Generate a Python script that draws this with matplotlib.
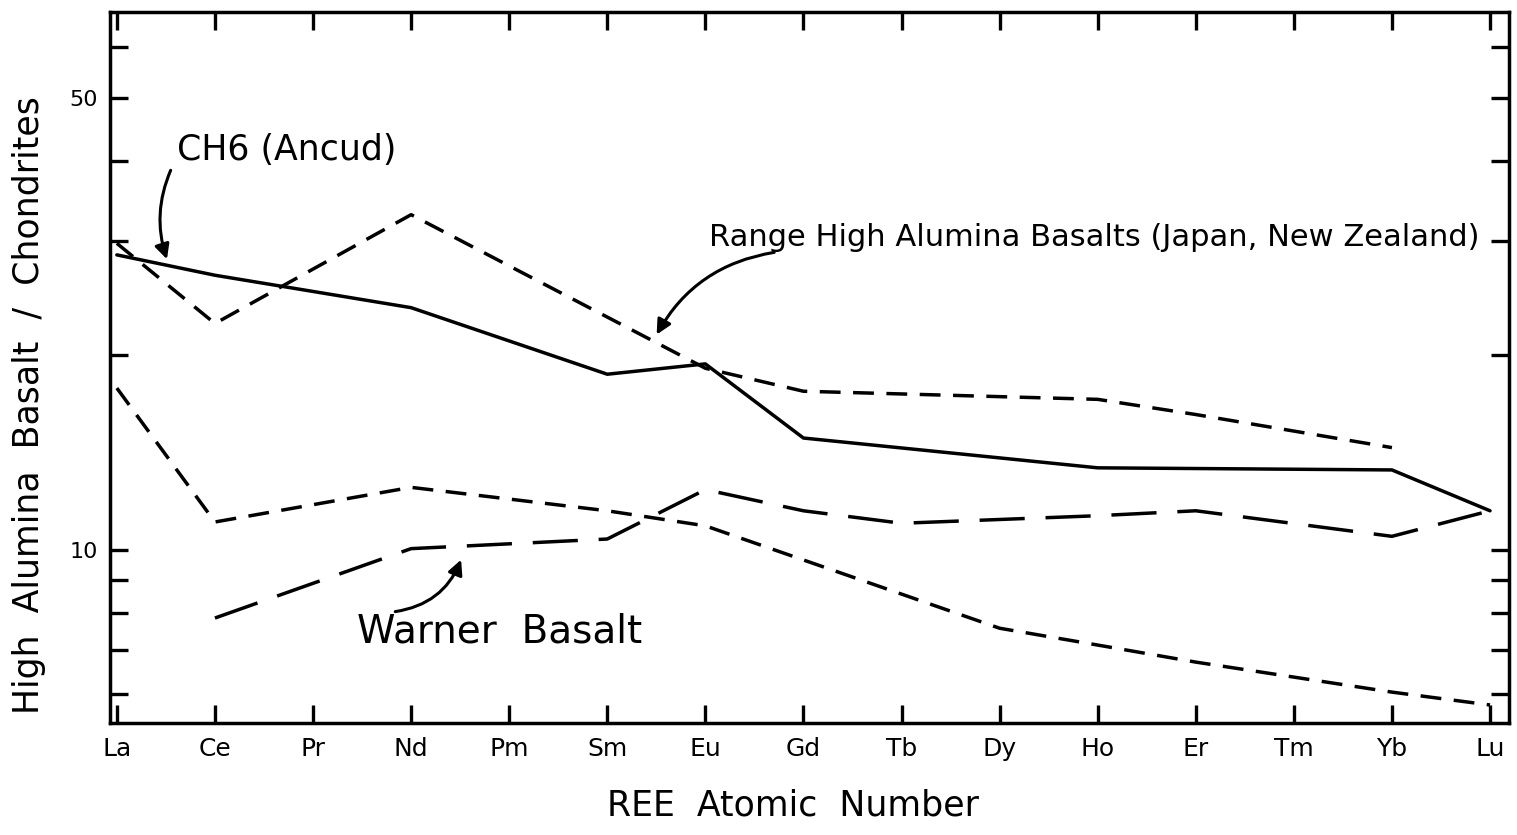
import numpy as np
import matplotlib.pyplot as plt
from matplotlib.ticker import FixedLocator, FixedFormatter, NullLocator

elements = ['La', 'Ce', 'Pr', 'Nd', 'Pm', 'Sm', 'Eu', 'Gd', 'Tb', 'Dy', 'Ho', 'Er', 'Tm', 'Yb', 'Lu']

# CH6 (Ancud)
ch6_el = ['La', 'Ce', 'Nd', 'Sm', 'Eu', 'Gd', 'Ho', 'Yb', 'Lu']
ch6_val = [28.6, 26.6, 23.7, 18.7, 19.4, 14.9, 13.4, 13.3, 11.5]

# range of high alumina basalts (Japan, New Zealand)
upper_el = ['La', 'Ce', 'Nd', 'Eu', 'Gd', 'Ho', 'Er', 'Yb']
upper_val = [29.8, 22.4, 33.0, 19.1, 17.6, 17.1, 16.2, 14.4]
lower_el = ['La', 'Ce', 'Nd', 'Sm', 'Eu', 'Dy', 'Ho', 'Er', 'Yb', 'Lu']
lower_val = [17.8, 11.05, 12.5, 11.5, 10.9, 7.57, 7.13, 6.71, 6.03, 5.76]

# Warner Basalt
warner_el = ['Ce', 'Nd', 'Sm', 'Eu', 'Gd', 'Tb', 'Ho', 'Er', 'Yb', 'Lu']
warner_val = [7.85, 10.05, 10.4, 12.4, 11.5, 11.0, 11.3, 11.5, 10.5, 11.5]

ytick_vals = [6, 7, 8, 9, 10, 20, 30, 40, 50, 60]
ytick_labels = ['', '', '', '', '10', '', '', '', '50', '']


def pos(els):
    return [elements.index(e) for e in els]


plt.rcParams['font.family'] = 'DejaVu Sans'

fig = plt.figure(figsize=(15.17, 8.35), dpi=100)
ax = fig.add_axes([0.0725, 0.134, 0.922, 0.8516])

lw = 2.5
ax.plot(pos(ch6_el), ch6_val, color='black', lw=lw, solid_capstyle='round')
ax.plot(pos(upper_el), upper_val, color='black', lw=lw, linestyle=(0, (6, 3.6)))
ax.plot(pos(lower_el), lower_val, color='black', lw=lw, linestyle=(0, (6, 3.6)))
ax.plot(pos(warner_el), warner_val, color='black', lw=lw, linestyle=(0, (13, 6)))

ax.set_yscale('log')
ax.set_xlim(-0.07, 14.19)
ax.set_ylim(5.40, 67.9)

ax.set_xticks(range(len(elements)))
ax.set_xticklabels(elements, fontsize=18)
ax.yaxis.set_major_locator(FixedLocator(ytick_vals))
ax.yaxis.set_major_formatter(FixedFormatter(ytick_labels))
ax.yaxis.set_minor_locator(NullLocator())
ax.tick_params(axis='both', which='major', direction='in', length=13, width=2.4,
               top=True, right=True)
ax.tick_params(axis='x', pad=10, labelsize=18)
ax.tick_params(axis='y', pad=9, labelsize=16)
for s in ax.spines.values():
    s.set_linewidth(2.5)

ax.set_xlabel('REE  Atomic  Number', fontsize=25)
ax.xaxis.set_label_coords(0.488, -0.092)
ax.set_ylabel('High  Alumina  Basalt  /  Chondrites', fontsize=25)
ax.yaxis.set_label_coords(-0.046, 0.447)

# annotations
ax.text(1.73, 41.5, 'CH6 (Ancud)', fontsize=25, ha='center', va='center')
ax.annotate('', xy=(0.52, 27.9), xytext=(0.56, 39.0),
            arrowprops=dict(arrowstyle='-|>', color='black', lw=2.2,
                            mutation_scale=22, connectionstyle='arc3,rad=0.2'))

ax.text(9.97, 30.4, 'Range High Alumina Basalts (Japan, New Zealand)', fontsize=22,
        ha='center', va='center')
ax.annotate('', xy=(5.49, 21.35), xytext=(6.73, 28.9),
            arrowprops=dict(arrowstyle='-|>', color='black', lw=2.2,
                            mutation_scale=22, connectionstyle='arc3,rad=0.25'))

ax.text(3.905, 7.47, 'Warner  Basalt', fontsize=28, ha='center', va='center')
ax.annotate('', xy=(3.52, 9.75), xytext=(2.81, 8.02),
            arrowprops=dict(arrowstyle='-|>', color='black', lw=2.2,
                            mutation_scale=22, connectionstyle='arc3,rad=0.3'))

fig.savefig('out.png', dpi=100)
